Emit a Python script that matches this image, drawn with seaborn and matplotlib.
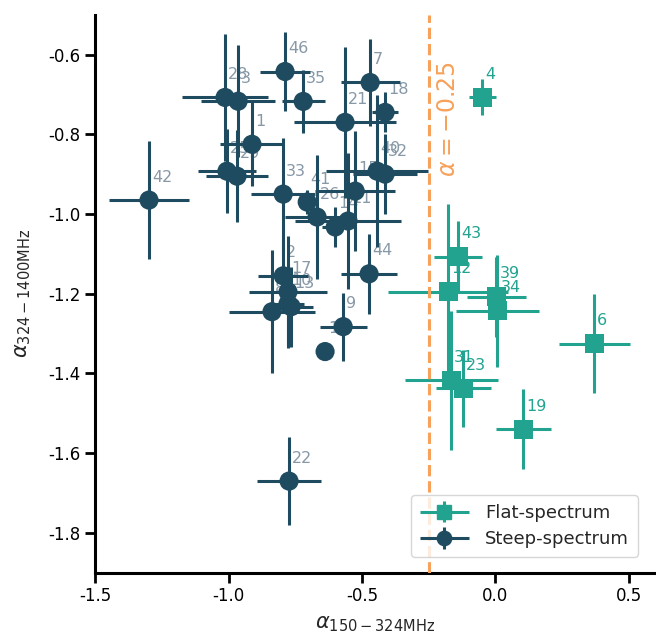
import numpy as np
import pandas as pd
import matplotlib
matplotlib.use("Agg")
import matplotlib.pyplot as plt
from matplotlib.legend_handler import HandlerErrorbar
import seaborn as sns

# ---- data ---------------------------------------------------------------
steep_ids = [42, 28, 3, 1, 25, 29, 46, 35, 7, 18, 21, 40, 32, 33, 41, 26,
             14, 11, 15, 44, 9, 16, 2, 17, 10, 13, 8, 22]
steep_x = [-1.298, -1.013, -0.964, -0.912, -1.006, -0.968, -0.788, -0.720,
           -0.469, -0.413, -0.563, -0.443, -0.413, -0.795, -0.705, -0.668,
           -0.600, -0.552, -0.525, -0.473, -0.570, -0.638, -0.795, -0.777,
           -0.777, -0.765, -0.837, -0.773]
steep_y = [-0.965, -0.7075, -0.717, -0.825, -0.8925, -0.905, -0.6425, -0.7175,
           -0.670, -0.745, -0.770, -0.8925, -0.900, -0.950, -0.970, -1.0075,
           -1.0325, -1.0175, -0.9425, -1.150, -1.2825, -1.345, -1.155, -1.195,
           -1.225, -1.2325, -1.245, -1.670]
steep_xerr = [0.15, 0.16, 0.14, 0.12, 0.11, 0.115, 0.095, 0.08,
              0.11, 0.05, 0.19, 0.19, 0.12, 0.12, 0.03, 0.12,
              0.05, 0.20, 0.15, 0.105, 0.088, 0.0, 0.094, 0.146,
              0.06, 0.08, 0.16, 0.12]
steep_yerr = [0.148, 0.16, 0.14, 0.105, 0.105, 0.115, 0.10, 0.08,
              0.11, 0.05, 0.19, 0.19, 0.10, 0.14, 0.03, 0.155,
              0.05, 0.17, 0.15, 0.10, 0.085, 0.0, 0.09, 0.14,
              0.10, 0.10, 0.155, 0.11]

flat_ids = [4, 43, 12, 39, 34, 6, 31, 23, 19]
flat_x = [-0.049, -0.139, -0.176, 0.004, 0.008, 0.371, -0.165, -0.120, 0.105]
flat_y = [-0.7075, -1.1075, -1.195, -1.2075, -1.2425, -1.325, -1.4175,
          -1.4375, -1.540]
flat_xerr = [0.05, 0.09, 0.225, 0.11, 0.155, 0.133, 0.175, 0.103, 0.103]
flat_yerr = [0.045, 0.09, 0.22, 0.10, 0.14, 0.125, 0.175, 0.097, 0.10]

alpha_cut = -0.25

STEEP = "#1e4b5f"
FLAT = "#21a38f"
ORANGE = "#f7a15a"
GREY = "#8798a7"

sns.set_style("ticks")
plt.rcParams["font.family"] = ["DejaVu Sans"]
plt.rcParams["mathtext.fontset"] = "dejavusans"
plt.rcParams["axes.unicode_minus"] = False

df = pd.concat([
    pd.DataFrame({"id": steep_ids, "x": steep_x, "y": steep_y,
                  "xerr": steep_xerr, "yerr": steep_yerr,
                  "kind": "Steep-spectrum"}),
    pd.DataFrame({"id": flat_ids, "x": flat_x, "y": flat_y,
                  "xerr": flat_xerr, "yerr": flat_yerr,
                  "kind": "Flat-spectrum"}),
], ignore_index=True)

fig = plt.figure(figsize=(6.56, 6.4), dpi=100)
ax = fig.add_axes([0.145, 0.105, 0.854, 0.872])

styles = {"Flat-spectrum": (FLAT, "s", 10.5, FLAT),
          "Steep-spectrum": (STEEP, "o", 11.5, GREY)}

handles = []
for kind in ["Flat-spectrum", "Steep-spectrum"]:
    color, marker, ms, lab_color = styles[kind]
    sub = df[df["kind"] == kind]
    ax.errorbar(sub["x"], sub["y"], xerr=sub["xerr"], yerr=sub["yerr"],
                fmt="none", ecolor=color, elinewidth=2.2, capsize=0,
                zorder=3)
    # legend proxy (errorbar with marker)
    h = ax.errorbar([np.nan], [np.nan], xerr=[0.1], yerr=[0.1], fmt=marker,
                    color=color, ms=ms * 0.9, elinewidth=2.2, capsize=0,
                    label=kind)
    handles.append(h)
    for _, r in sub.iterrows():
        ax.annotate(str(r["id"]), (r["x"], r["y"]), xytext=(3, 23),
                    textcoords="offset pixels", ha="left", va="center",
                    fontsize=11.5, color=lab_color, zorder=1)

sns.scatterplot(data=df, x="x", y="y", hue="kind", style="kind",
                palette={"Flat-spectrum": FLAT, "Steep-spectrum": STEEP},
                markers={"Flat-spectrum": "s", "Steep-spectrum": "o"},
                s=190, linewidth=0, legend=False, ax=ax, zorder=4)

ax.axvline(alpha_cut, color=ORANGE, ls="--", lw=2.2, zorder=5)
ax.text(-0.178, -0.762, r"$\alpha=-0.25$", rotation=90, color=ORANGE,
        fontsize=17, ha="center", va="center")

ax.set_xlim(-1.5, 0.6)
ax.set_ylim(-1.9, -0.5)
ax.set_xticks([-1.5, -1.0, -0.5, 0.0, 0.5])
ax.set_yticks([-0.6, -0.8, -1.0, -1.2, -1.4, -1.6, -1.8])
ax.set_xlabel(r"$\alpha_{150-324\mathrm{MHz}}$", fontsize=15, labelpad=6)
ax.set_ylabel(r"$\alpha_{324-1400\mathrm{MHz}}$", fontsize=15, labelpad=11)
ax.tick_params(labelsize=12, width=2, length=7, color="black",
               labelcolor="black")
for s in ["left", "bottom"]:
    ax.spines[s].set_linewidth(2.2)
    ax.spines[s].set_color("black")
sns.despine(ax=ax)

ax.legend(handles=handles, loc="lower right", fontsize=13,
          handlelength=2.7, handletextpad=0.9, borderpad=0.5,
          labelspacing=0.45, bbox_to_anchor=(0.985, 0.012),
          handler_map={type(handles[0]): HandlerErrorbar(xerr_size=1.35,
                                                         yerr_size=0.6)})

fig.savefig("out.png", dpi=100)
